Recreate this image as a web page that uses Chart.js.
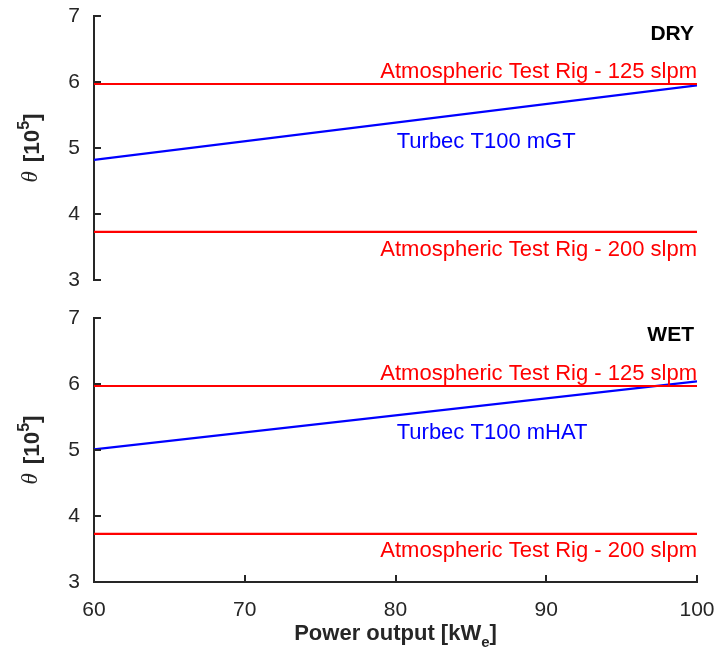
<!DOCTYPE html>
<html>
<head>
<meta charset="utf-8">
<script src="https://cdn.jsdelivr.net/npm/chart.js@4.4.1/dist/chart.umd.min.js"></script>
<style>
  html, body { margin: 0; padding: 0; background: #fff; }
  #wrap { position: relative; width: 720px; height: 657px; }
  #wrap canvas { position: absolute; left: 0; }
  #c1 { top: 0; }
  #c2 { top: 300px; }
</style>
</head>
<body>
<div id="wrap">
  <canvas id="c1" width="720" height="300" style="width:720px;height:300px"></canvas>
  <canvas id="c2" width="720" height="357" style="width:720px;height:357px"></canvas>
</div>
<script>
// ---- data ----
const powerOutput = [60, 100];              // kW_e
const xTicks = [60, 70, 80, 90, 100];
const yTicks = [3, 4, 5, 6, 7];

const dryRig125 = [5.97, 5.97];
const dryRig200 = [3.73, 3.73];
const dryMGT    = [4.82, 5.95];

const wetRig125 = [5.97, 5.97];
const wetRig200 = [3.73, 3.73];
const wetMHAT   = [5.01, 6.04];

const panelLabels = ['DRY', 'WET'];
const seriesLabels = {
  rig125: 'Atmospheric Test Rig - 125 slpm',
  rig200: 'Atmospheric Test Rig - 200 slpm',
  mgt: 'Turbec T100 mGT',
  mhat: 'Turbec T100 mHAT'
};

// ---- styling ----
const AXIS = '#262626';
const RED = '#ff0000';
const BLUE = '#0000ff';
const SANS = '"Liberation Sans", Arial, Helvetica, sans-serif';

function pts(xs, ys) { return xs.map((x, i) => ({ x: x, y: ys[i] })); }

function lineDs(label, ys, color) {
  return {
    label: label,
    data: pts(powerOutput, ys),
    borderColor: color,
    borderWidth: 2.2,
    pointRadius: 0,
    fill: false,
    tension: 0
  };
}

function zeroPad(s) { s.paddingTop = 0; s.paddingBottom = 0; s.paddingLeft = 0; s.paddingRight = 0; }

// inward ticks
const inwardTicks = {
  id: 'inwardTicks',
  afterDraw(chart, args, opts) {
    const ctx = chart.ctx;
    const a = chart.chartArea;
    ctx.save();
    ctx.strokeStyle = AXIS;
    ctx.lineWidth = 2;
    const ys = chart.scales.y;
    yTicks.forEach(v => {
      const p = Math.round(ys.getPixelForValue(v));
      ctx.beginPath();
      ctx.moveTo(a.left, p);
      ctx.lineTo(a.left + 7, p);
      ctx.stroke();
    });
    if (opts.xTicks) {
      const xs = chart.scales.x;
      xTicks.forEach(v => {
        const p = Math.round(xs.getPixelForValue(v));
        ctx.beginPath();
        ctx.moveTo(p, a.bottom);
        ctx.lineTo(p, a.bottom - 7);
        ctx.stroke();
      });
      ctx.beginPath();
      ctx.moveTo(a.left - 1, a.bottom);
      ctx.lineTo(xs.getPixelForValue(100) + 1, a.bottom);
      ctx.stroke();
    }
    ctx.restore();
  }
};

// annotations in data coordinates
const annotations = {
  id: 'annotations',
  afterDatasetsDraw(chart, args, opts) {
    const ctx = chart.ctx;
    const xs = chart.scales.x, ys = chart.scales.y;
    ctx.save();
    (opts.items || []).forEach(it => {
      ctx.font = it.font;
      ctx.fillStyle = it.color;
      ctx.textAlign = it.align;
      ctx.textBaseline = 'alphabetic';
      ctx.fillText(it.text, xs.getPixelForValue(it.x) + (it.dx || 0), ys.getPixelForValue(it.y));
    });
    ctx.restore();
  }
};

// y-axis title: θ [10^5]
const yTitle = {
  id: 'yTitle',
  afterDraw(chart) {
    const ctx = chart.ctx;
    const a = chart.chartArea;
    const cy = (a.top + a.bottom) / 2;
    ctx.save();
    ctx.translate(39, cy);
    ctx.rotate(-Math.PI / 2);
    ctx.fillStyle = AXIS;
    ctx.textBaseline = 'alphabetic';
    const parts = [
      { t: 'θ', f: 'italic 23px "Liberation Serif", "DejaVu Serif", serif', dy: -2 },
      { t: '  ', f: 'bold 16px ' + SANS, dy: 0 },
      { t: '[10', f: 'bold 22.5px ' + SANS, dy: 0 },
      { t: '5', f: 'bold 16px ' + SANS, dy: -10 },
      { t: ']', f: 'bold 22.5px ' + SANS, dy: 0 }
    ];
    let total = 0;
    parts.forEach(p => { ctx.font = p.f; p.w = ctx.measureText(p.t).width; total += p.w; });
    let x = -total / 2;
    ctx.textAlign = 'left';
    parts.forEach(p => { ctx.font = p.f; ctx.fillText(p.t, x, p.dy); x += p.w; });
    ctx.restore();
  }
};

// x-axis title: Power output [kW_e]
const xTitle = {
  id: 'xTitle',
  afterDraw(chart) {
    const ctx = chart.ctx;
    const a = chart.chartArea;
    const cx = (a.left + a.right) / 2;
    const base = 340;
    ctx.save();
    ctx.fillStyle = AXIS;
    ctx.textBaseline = 'alphabetic';
    const parts = [
      { t: 'Power output [kW', f: 'bold 22px ' + SANS, dy: 0 },
      { t: 'e', f: 'bold 15px ' + SANS, dy: 7 },
      { t: ']', f: 'bold 22px ' + SANS, dy: 0 }
    ];
    let total = 0;
    parts.forEach(p => { ctx.font = p.f; p.w = ctx.measureText(p.t).width; total += p.w; });
    let x = cx - total / 2;
    ctx.textAlign = 'left';
    parts.forEach(p => { ctx.font = p.f; ctx.fillText(p.t, x, base + p.dy); x += p.w; });
    ctx.restore();
  }
};

function yScale() {
  return {
    type: 'linear',
    min: 3, max: 7,
    afterBuildTicks(s) { s.ticks = yTicks.map(v => ({ value: v })); },
    ticks: { color: AXIS, font: { family: SANS, size: 21 }, padding: 14 },
    grid: { display: true, drawOnChartArea: false, drawTicks: false },
    border: { display: true, color: AXIS, width: 2 },
    afterFit(s) { s.width = 94; zeroPad(s); }
  };
}

function makeChart(id, datasets, items, isBottom) {
  const xScale = isBottom ? {
    type: 'linear', min: 60, max: 100,
    afterBuildTicks(s) { s.ticks = xTicks.map(v => ({ value: v })); },
    ticks: { color: AXIS, font: { family: SANS, size: 21 }, padding: 16, maxRotation: 0 },
    grid: { display: true, drawOnChartArea: false, drawTicks: false },
    border: { display: false },
    afterFit(s) { s.height = 75; zeroPad(s); }
  } : { type: 'linear', min: 60, max: 100, display: false };

  return new Chart(document.getElementById(id), {
    type: 'line',
    data: { datasets: datasets },
    options: {
      responsive: false,
      animation: false,
      devicePixelRatio: 1,
      layout: { padding: isBottom ? { left: 0, right: 23, top: 18, bottom: 0 } : { left: 0, right: 23, top: 16, bottom: 20 } },
      plugins: {
        legend: { display: false },
        tooltip: { enabled: false },
        annotations: { items: items },
        inwardTicks: { xTicks: isBottom }
      },
      scales: { x: xScale, y: yScale() }
    },
    plugins: [inwardTicks, annotations, yTitle].concat(isBottom ? [xTitle] : [])
  });
}

const annFont = '22px ' + SANS;
const boldFont = 'bold 21px ' + SANS;

makeChart('c1', [
  lineDs(seriesLabels.rig125, dryRig125, RED),
  lineDs(seriesLabels.rig200, dryRig200, RED),
  lineDs(seriesLabels.mgt, dryMGT, BLUE)
], [
  { text: panelLabels[0], x: 100, dx: -3, y: 6.636, align: 'right', color: '#000', font: boldFont },
  { text: seriesLabels.rig125, x: 100, y: 6.06, align: 'right', color: RED, font: annFont },
  { text: seriesLabels.mgt, x: 80.08, y: 5.005, align: 'left', color: BLUE, font: annFont },
  { text: seriesLabels.rig200, x: 100, y: 3.364, align: 'right', color: RED, font: annFont }
], false);

makeChart('c2', [
  lineDs(seriesLabels.rig125, wetRig125, RED),
  lineDs(seriesLabels.rig200, wetRig200, RED),
  lineDs(seriesLabels.mhat, wetMHAT, BLUE)
], [
  { text: panelLabels[1], x: 100, dx: -3, y: 6.646, align: 'right', color: '#000', font: boldFont },
  { text: seriesLabels.rig125, x: 100, y: 6.067, align: 'right', color: RED, font: annFont },
  { text: seriesLabels.mhat, x: 80.08, y: 5.17, align: 'left', color: BLUE, font: annFont },
  { text: seriesLabels.rig200, x: 100, y: 3.385, align: 'right', color: RED, font: annFont }
], true);
</script>
</body>
</html>
